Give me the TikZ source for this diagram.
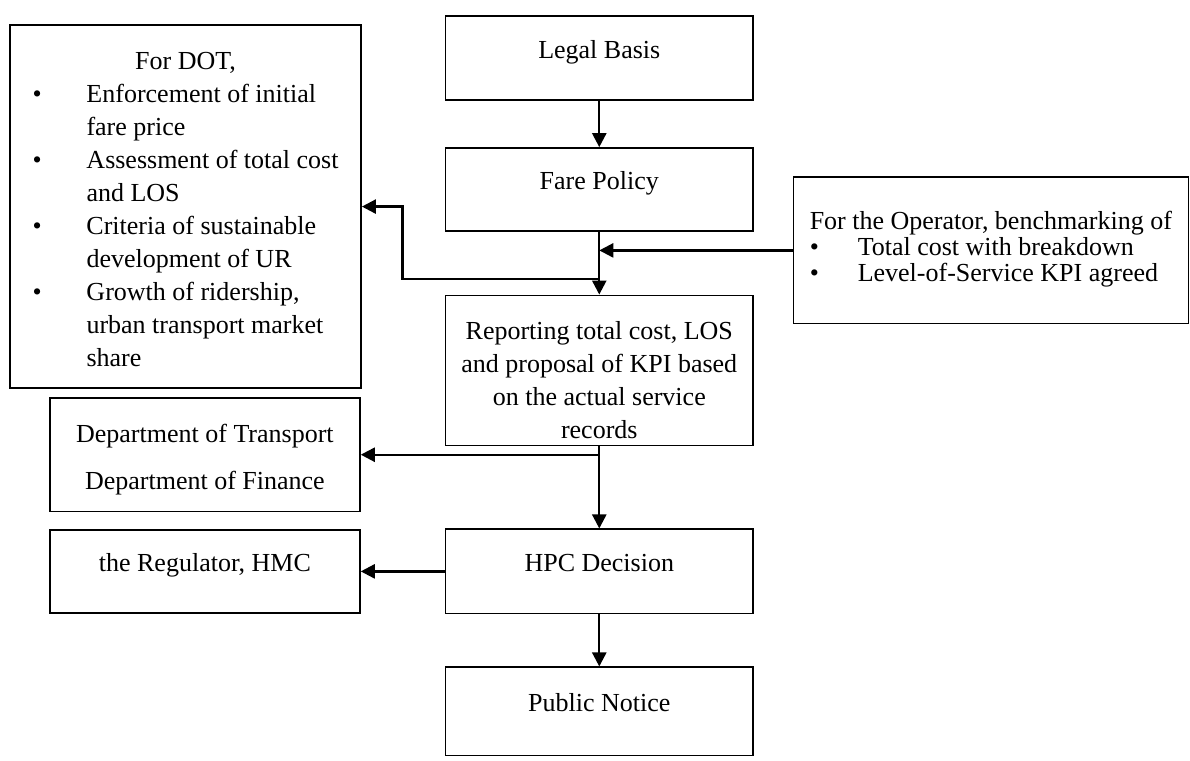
\documentclass[tikz,border=0pt]{standalone}
\usepackage{fontspec}
\setmainfont{Liberation Serif}
\usetikzlibrary{arrows.meta}

\begin{document}
\begin{tikzpicture}[every node/.style={font=\fontsize{13pt}{16.5pt}\selectfont}, >={Triangle[length=7pt,width=7pt]}, box/.style={draw, line width=0.8pt, inner sep=0pt, align=center}, oneline/.style={text height=9pt, text depth=9pt}]
	\useasboundingbox (0,0) rectangle (20.91,13.36);
	% middle column
	\node[box, oneline, minimum width=5.41cm, minimum height=1.48cm] (legal) at (10.53,12.34) {Legal Basis};
	\node[box, oneline, minimum width=5.41cm, minimum height=1.46cm] (fare) at (10.53,10.03) {Fare Policy};
	\node[box, minimum width=5.41cm, minimum height=2.64cm] (report) at (10.53,6.85) {\rule{0pt}{19pt}Reporting total cost, LOS\\ and proposal of KPI based\\ on the actual service\\ records};
	\node[box, oneline, minimum width=5.41cm, minimum height=1.48cm] (hpc) at (10.53,3.32) {HPC Decision};
	\node[box, oneline, minimum width=5.41cm, minimum height=1.55cm] (public) at (10.53,0.86) {Public Notice};
	% left column
	\node[box, minimum width=6.17cm, minimum height=6.38cm] (dot) at (3.26,9.73) {\begin{tabular}{@{}p{27pt}@{}l@{}}\multicolumn{2}{@{}c@{}}{\rule{0pt}{16.5pt}For DOT,}\\ \textbullet & Enforcement of initial\\ & fare price\\ \textbullet & Assessment of total cost\\ & and LOS\\ \textbullet & Criteria of sustainable\\ & development of UR\\ \textbullet & Growth of ridership,\\ & urban transport market\\ & share\end{tabular}};
	\node[box, minimum width=5.45cm, minimum height=1.99cm] (dept) at (3.60,5.37) {\rule{0pt}{14pt}Department of Transport\\[7pt] Department of Finance};
	\node[box, oneline, minimum width=5.45cm, minimum height=1.46cm] (reg) at (3.60,3.32) {the Regulator, HMC};
	% right
	\node[box, minimum width=6.94cm, minimum height=2.57cm] (oper) at (17.41,8.96) {\def\arraystretch{0.79}\begin{tabular}{@{}p{24pt}@{}l@{}}\multicolumn{2}{@{}l@{}}{For the Operator, benchmarking of}\\ \textbullet & Total cost with breakdown\\ \textbullet & Level-of-Service KPI agreed\end{tabular}};
	% arrows
	\coordinate (split) at ([yshift=-0.83cm]fare.south);
	\draw[->, very thick] (legal) -- (fare);
	\draw[->, very thick] (fare) -- (report);
	\draw[->, very thick] (split) -- ++(-3.46,0) |- (dot.east);
	\draw[->, very thick] (oper.west) -- (oper.west -| fare.south);
	\draw[->, very thick] (report.south |- dept.east) -- (dept.east);
	\draw[->, very thick] (report) -- (hpc);
	\draw[->, very thick] (hpc.west) -- (reg.east);
	\draw[->, very thick] (hpc) -- (public);
\end{tikzpicture}
\end{document}
